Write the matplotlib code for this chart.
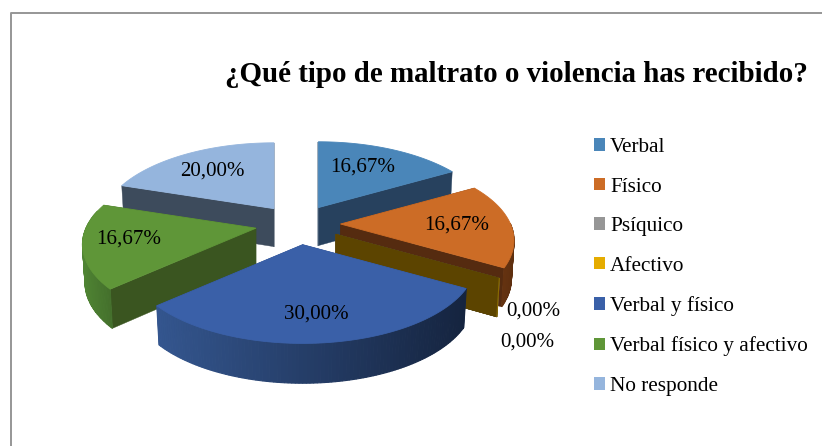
import numpy as np
import matplotlib
matplotlib.use("Agg")
import matplotlib.pyplot as plt
from matplotlib.patches import Patch, Polygon
from matplotlib.lines import Line2D

categories = ["Verbal", "Físico", "Psíquico", "Afectivo", "Verbal y físico",
              "Verbal físico y afectivo", "No responde"]
values = [16.67, 16.67, 0.0, 0.0, 30.0, 16.67, 20.0]
value_labels = ["16,67%", "16,67%", "0,00%", "0,00%", "30,00%", "16,67%", "20,00%"]
title_text = "¿Qué tipo de maltrato o violencia has recibido?"

top_colors = ["#4A86B9", "#CC6C26", "#969696", "#E5AC00", "#3A60A8", "#5F9638", "#95B5DD"]
wall_colors = ["#27415E", "#552B10", "#555555", "#5C4400", "#26406F", "#3A5520", "#3D4B5C"]
rim_left = ["#3A6A94", "#7A3E14", "#777777", "#8A6A00", "#34568F", "#4F8433", "#6F8CB0"]
rim_right = ["#27415E", "#5E2F0F", "#555555", "#5C4400", "#15243F", "#44702C", "#3D4B5C"]

plt.rcParams["font.family"] = ["Liberation Serif", "DejaVu Serif"]
W, H = 822, 446
fig = plt.figure(figsize=(W / 100, H / 100), dpi=100)
ax = fig.add_axes([0, 0, 1, 1])
ax.set_xlim(0, W)
ax.set_ylim(H, 0)
ax.axis("off")

# chart frame: only the top and left edges lie inside the crop
ax.add_line(Line2D([10.5, 10.5, W], [H, 13, 13], color="#969696", lw=1.4, zorder=0))

# projection of the tilted pie, in screen pixels
CX, CY = 298.0, 224.0
RX, TY, PERSP = 170.0, 79.0, 0.2
EXPLODE, DEPTH = 0.25, 38.0


def project(theta, radius=1.0):
    s = 1.0 / (1.0 + PERSP * radius * np.cos(theta))
    return radius * RX * np.sin(theta) * s, -radius * TY * np.cos(theta) * s


def mix(c1, c2, t):
    a, b = np.array(matplotlib.colors.to_rgb(c1)), np.array(matplotlib.colors.to_rgb(c2))
    return a + (b - a) * t


fractions = np.array(values) / sum(values)
edges = np.concatenate([[0], np.cumsum(fractions)]) * 2 * np.pi

slices = []
for i, v in enumerate(values):
    a0, a1 = edges[i], edges[i + 1]
    mid = (a0 + a1) / 2
    dx, dy = project(mid, EXPLODE)
    slices.append((i, a0, a1, mid, CX + dx, CY + dy))

draw_order = [6, 0, 1, 2, 3, 5, 4]
label_pos = {0: (362.5, 167), 1: (457, 225), 2: (533, 311), 3: (527, 342),
             4: (316.5, 314), 5: (129, 239), 6: (212, 171)}

for rank, idx in enumerate(draw_order):
    i, a0, a1, mid, ax0, ay0 = slices[idx]
    z = 2 + rank
    th = np.linspace(a0, a1, max(2, int(np.degrees(a1 - a0)) + 2))
    ox, oy = project(th)
    arc = np.column_stack([ax0 + ox, ay0 + oy])
    apex = np.array([ax0, ay0])
    shrink = 0.985

    def low(p, angle):
        return apex + (p - apex) * shrink + np.array([0, DEPTH / (1 + 0.08 * np.cos(angle))])

    apex_low = apex + np.array([0, DEPTH])
    # radial walls
    for p, ang in ((arc[0], th[0]), (arc[-1], th[-1])):
        ax.add_patch(Polygon([apex, p, low(p, ang), apex_low], fc=wall_colors[i],
                             ec=wall_colors[i], lw=0.3, zorder=z))
    # curved outer rim, front part only, shaded left to right
    n = len(arc)
    sx0, sx1 = arc[:, 0].min(), arc[:, 0].max()
    for k in range(n - 1):
        if np.cos((th[k] + th[k + 1]) / 2) > 0.0 and i != 5:
            continue
        if np.cos((th[k] + th[k + 1]) / 2) > 0.22:
            continue
        t = (arc[k, 0] - sx0) / max(sx1 - sx0, 1)
        col = mix(rim_left[i], rim_right[i], t)
        ax.add_patch(Polygon([arc[k], arc[k + 1], low(arc[k + 1], th[k + 1]), low(arc[k], th[k])],
                             fc=col, ec=col, lw=0.8, zorder=z + 0.1))
    # top face
    if a1 > a0:
        ax.add_patch(Polygon(np.vstack([apex, arc]), fc=top_colors[i], ec=top_colors[i],
                             lw=0.6, zorder=z + 0.2))

for i, txt in enumerate(value_labels):
    x, y = label_pos[i]
    ax.text(x, y, txt, ha="center", va="center", fontsize=15.1, color="black", zorder=20)

ax.text(516, 75, title_text, ha="center", va="center", fontsize=20.9,
        fontweight="bold", color="black", zorder=20)

handles = [Patch(fc=c, ec="none") for c in top_colors]
leg = ax.legend(handles, categories, loc="upper left", bbox_to_anchor=(594 / W, 1 - 138 / H),
                frameon=False, fontsize=15.3, handlelength=0.52, handleheight=0.52,
                handletextpad=0.24, labelspacing=0.965, borderpad=0, borderaxespad=0)

fig.savefig("out.png", dpi=100)
